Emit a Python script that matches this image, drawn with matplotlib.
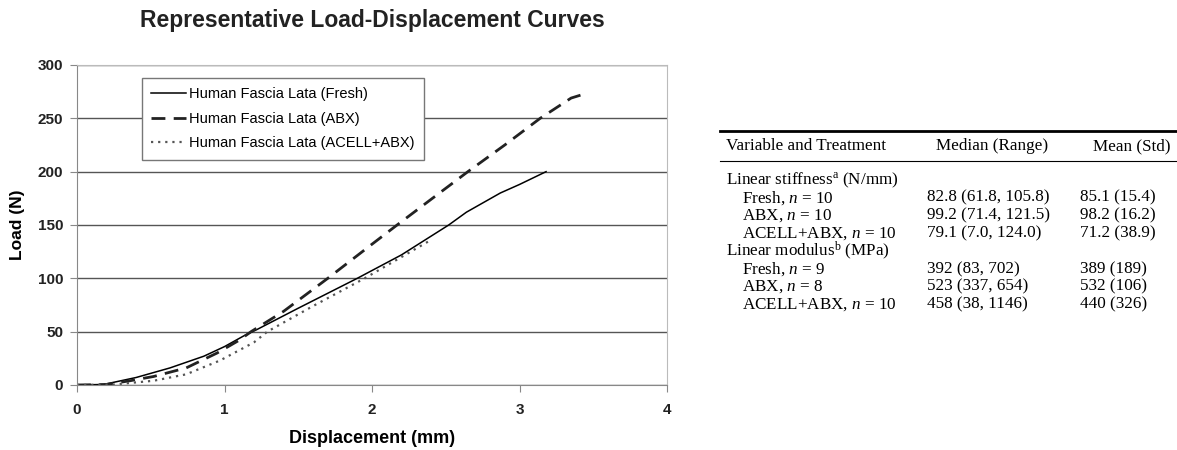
import matplotlib
matplotlib.use("Agg")
from matplotlib import pyplot as plt

plt.rcParams['font.family'] = ['Liberation Sans', 'DejaVu Sans']
plt.rcParams['mathtext.fontset'] = 'custom'
plt.rcParams['mathtext.rm'] = 'Liberation Serif'
plt.rcParams['mathtext.it'] = 'Liberation Serif:italic'

# curves
fresh_x = [0, 0.18, 0.4, 0.63, 0.86, 1.0, 1.13, 1.22, 1.5, 1.9, 2.2, 2.52, 2.64, 2.87, 3.0, 3.18]
fresh_y = [0, 0.5, 7, 16, 27, 36, 46, 52, 72, 100, 122, 150, 162, 180, 188, 200]
abx_x = [0, 0.2, 0.36, 0.52, 0.74, 0.95, 1.1, 1.18, 1.4, 1.7, 2.0, 2.17, 2.4, 2.65, 2.9, 3.14, 3.35, 3.42]
abx_y = [0, 0.5, 4, 8, 16, 30, 42, 50, 69, 100, 132, 150, 174, 200, 225, 250, 269, 272]
acell_x = [0, 0.25, 0.52, 0.74, 0.97, 1.2, 1.29, 1.6, 1.95, 2.2, 2.4]
acell_y = [0, 0.5, 4, 10, 23, 40, 50, 74, 100, 120, 136]

series_labels = ["Human Fascia Lata (Fresh)", "Human Fascia Lata (ABX)", "Human Fascia Lata (ACELL+ABX)"]
x_ticks = [0, 1, 2, 3, 4]
y_ticks = [0, 50, 100, 150, 200, 250, 300]

# table
table_header = ["Variable and Treatment", "Median (Range)", "Mean (Std)"]
table_rows = [
    (r"Linear stiffness$^\mathrm{a}$ (N/mm)", "", "", False),
    (r"Fresh, $n$ = 10", "82.8 (61.8, 105.8)", "85.1 (15.4)", True),
    (r"ABX, $n$ = 10", "99.2 (71.4, 121.5)", "98.2 (16.2)", True),
    (r"ACELL+ABX, $n$ = 10", "79.1 (7.0, 124.0)", "71.2 (38.9)", True),
    (r"Linear modulus$^\mathrm{b}$ (MPa)", "", "", False),
    (r"Fresh, $n$ = 9", "392 (83, 702)", "389 (189)", True),
    (r"ABX, $n$ = 8", "523 (337, 654)", "532 (106)", True),
    (r"ACELL+ABX, $n$ = 10", "458 (38, 1146)", "440 (326)", True),
]

W, H = 1177, 450
fig = plt.figure(figsize=(W / 100, H / 100), dpi=100)

ax = fig.add_axes([77 / W, 1 - 385 / H, 590 / W, 320 / H])
ax.plot(fresh_x, fresh_y, color='black', lw=1.1, label=series_labels[0])
ax.plot(abx_x, abx_y, color='#222222', lw=2.0, dashes=(5, 3), label=series_labels[1])
ax.plot(acell_x, acell_y, color='#555555', lw=1.6, dashes=(1, 2.2), label=series_labels[2])

ax.set_xlim(0, 4)
ax.set_ylim(0, 300)
ax.set_xticks(x_ticks)
ax.set_yticks(y_ticks)
ax.yaxis.grid(True, color='#555555', lw=1.0)
ax.set_axisbelow(True)
for s in ax.spines.values():
    s.set_color('#bbbbbb')
ax.spines['left'].set_color('#888888')
ax.spines['bottom'].set_color('#888888')
ax.tick_params(direction='out', length=5, color='#888888', labelsize=11)
ax.tick_params(axis='x', pad=8)
ax.tick_params(axis='y', pad=5)
for lab in ax.get_xticklabels() + ax.get_yticklabels():
    lab.set_fontweight('bold')
    lab.set_color('#222222')
ax.set_xlabel("Displacement (mm)", fontsize=13, fontweight='bold', labelpad=9)
ax.set_ylabel("Load (N)", fontsize=12.5, fontweight='bold', labelpad=9)

leg = ax.legend(loc='upper left', bbox_to_anchor=(0.11, 0.96), fontsize=10.5, fancybox=False,
                framealpha=1, edgecolor='#777777', handlelength=2.4, handletextpad=0.2,
                borderpad=0.65, labelspacing=0.72, borderaxespad=0)
leg.get_frame().set_linewidth(1.0)

fig.text(372 / W, 1 - 20 / H, "Representative Load-Displacement Curves", ha='center', va='center',
         fontsize=16.5, fontweight='bold', color='#222222')

# table drawn as text
tfs = 12.3
serif = ['Liberation Serif', 'DejaVu Serif']
x0, x_ind, x_med, x_mean = 726 / W, 742 / W, 927 / W, 1080 / W
fig.add_artist(plt.Line2D([720 / W, 1.0], [1 - 131 / H] * 2, color='black', lw=2.0))
fig.add_artist(plt.Line2D([720 / W, 1.0], [1 - 161.5 / H] * 2, color='black', lw=0.8))
hy = 1 - 146 / H
fig.text(x0, hy, table_header[0], fontsize=tfs, family=serif, va='center')
fig.text(936 / W, hy, table_header[1], fontsize=tfs, family=serif, va='center')
fig.text(1093 / W, hy, table_header[2], fontsize=tfs, family=serif, va='center')
for i, (name, med, mean, indent) in enumerate(table_rows):
    y = 1 - (180 + i * 17.8) / H
    fig.text(x_ind if indent else x0, y, name, fontsize=tfs, family=serif, va='center')
    if med:
        fig.text(x_med, y, med, fontsize=tfs, family=serif, va='center')
        fig.text(x_mean, y, mean, fontsize=tfs, family=serif, va='center')

fig.savefig("out.png", dpi=100)
